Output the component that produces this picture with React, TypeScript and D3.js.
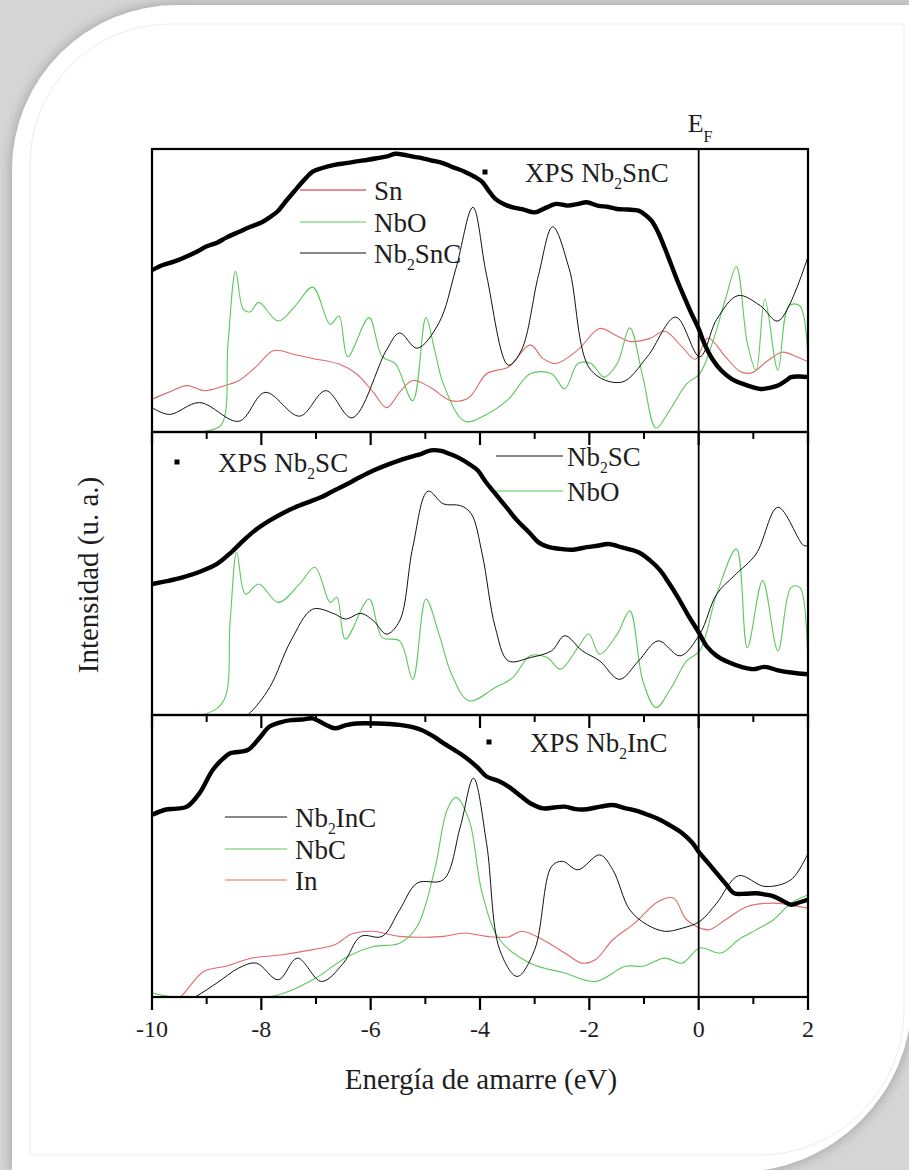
import React from "react";
import * as d3 from "d3";

type Pt = [number, number];

// Binding-energy axis
const energyMajor = [-10, -8, -6, -4, -2, 0, 2];
const energyMinor = [-9, -7, -5, -3, -1, 1];

// ---- Panel 1: Nb2SnC ----
const xpsNb2SnC: Pt[] = [
  [-10, 57.2], [-9.8, 59], [-9.6, 60.2], [-9.44, 61.4], [-9.2, 63.5], [-9.0, 65.6], [-8.8, 67], [-8.65, 68.6],
  [-8.4, 70.8], [-8.2, 72.5], [-8.0, 74], [-7.85, 75.8], [-7.7, 78], [-7.54, 81.8], [-7.4, 85], [-7.22, 89],
  [-7.06, 92], [-6.9, 93.2], [-6.66, 94.4], [-6.45, 95], [-6.26, 95.6], [-6.05, 96.2], [-5.87, 96.8],
  [-5.7, 97.4], [-5.55, 98.3], [-5.35, 97.8], [-5.2, 97.2], [-5.07, 96.8], [-4.9, 96], [-4.68, 95],
  [-4.5, 93.6], [-4.28, 92], [-4.1, 90.2], [-3.96, 88.4], [-3.85, 85.5], [-3.72, 82.4], [-3.55, 80.4],
  [-3.4, 79.4], [-3.2, 78.6], [-3.0, 77.6], [-2.8, 79.2], [-2.61, 80.6], [-2.4, 80], [-2.2, 80.6],
  [-2.05, 81.2], [-1.85, 80], [-1.65, 79.5], [-1.49, 78.8], [-1.3, 78.6], [-1.1, 78.2], [-0.98, 76.8],
  [-0.86, 74.6], [-0.74, 70.5], [-0.62, 65], [-0.5, 59], [-0.38, 53], [-0.26, 47.5], [-0.14, 42.2],
  [0.0, 36.5], [0.1, 31.4], [0.25, 25.8], [0.41, 21.8], [0.6, 18.8], [0.81, 17], [1.0, 15.8],
  [1.13, 15.2], [1.3, 15.6], [1.45, 16.4], [1.6, 18.2], [1.69, 19.4], [1.85, 19.6], [2.0, 19.4],
];

const snDos: Pt[] = [
  [-10, 11.6], [-9.7, 14], [-9.36, 16.4], [-9.05, 14.6], [-8.7, 16.2], [-8.41, 18.2], [-8.1, 23],
  [-7.77, 28.8], [-7.4, 27.4], [-7.06, 26], [-6.58, 24], [-6.26, 20.6], [-5.95, 14], [-5.71, 8.6],
  [-5.45, 14.5], [-5.23, 18.2], [-4.91, 15.8], [-4.52, 11], [-4.2, 12.2], [-3.88, 20.6], [-3.48, 23],
  [-3.08, 30.8], [-2.85, 26], [-2.61, 24.2], [-2.21, 29], [-1.81, 36.6], [-1.5, 34], [-1.26, 32],
  [-0.9, 33], [-0.62, 35.6], [-0.3, 30], [-0.06, 25.7], [0.17, 33.2], [0.49, 26.6], [0.75, 21.5],
  [0.97, 20.9], [1.25, 25], [1.53, 28.2], [1.8, 26.5], [2.0, 24.8],
];

const nbOPanel1: Pt[] = [
  [-10, -3], [-9.5, -3], [-9.05, 0], [-8.73, 2.6], [-8.61, 31], [-8.47, 56.8], [-8.33, 43.4],
  [-8.2, 42.5], [-8.05, 45.8], [-7.69, 39.2], [-7.38, 44.6], [-7.06, 51.2], [-6.74, 38], [-6.58, 41],
  [-6.42, 26.6], [-6.03, 40.4], [-5.79, 26.6], [-5.55, 24.2], [-5.23, 11], [-4.99, 40.4], [-4.83, 29],
  [-4.67, 17], [-4.28, 3.8], [-3.88, 6.2], [-3.48, 11.6], [-3.08, 20.6], [-2.69, 20.6], [-2.45, 15.2],
  [-2.21, 24.2], [-1.97, 24.2], [-1.73, 19.4], [-1.49, 24.2], [-1.26, 36.8], [-1.02, 19.4],
  [-0.78, 1.4], [-0.54, 7.4], [-0.22, 17], [0.02, 20.6], [0.25, 31.4], [0.49, 47], [0.69, 58.4],
  [0.89, 31.4], [1.05, 21.8], [1.21, 47], [1.45, 21.8], [1.65, 44.6], [1.85, 44.6], [2.0, 25.4],
];

const nb2SnCDos: Pt[] = [
  [-10, 8.6], [-9.68, 6.2], [-9.13, 10.4], [-8.41, 3.8], [-7.93, 14], [-7.3, 5.6], [-6.82, 14.6],
  [-6.34, 5], [-5.71, 29], [-5.47, 35], [-5.15, 29.6], [-4.75, 38.6], [-4.44, 57.8], [-4.13, 79.4],
  [-3.88, 55.4], [-3.48, 23.6], [-3.24, 29], [-2.93, 55.4], [-2.67, 72.5], [-2.37, 57.8],
  [-1.97, 21.8], [-1.41, 17.6], [-0.94, 26.6], [-0.42, 40.6], [0.02, 26.6], [0.33, 39.8],
  [0.72, 48.2], [1.13, 44.6], [1.45, 39.2], [2.0, 62],
];

// ---- Panel 2: Nb2SC ----
const xpsNb2SC: Pt[] = [
  [-10, 46.3], [-9.7, 47.4], [-9.44, 48.6], [-9.1, 50.8], [-8.81, 53.4], [-8.55, 57.5], [-8.33, 61.6],
  [-8.1, 65.5], [-7.85, 68.7], [-7.6, 71.4], [-7.38, 73.4], [-7.1, 75.5], [-6.9, 77], [-6.65, 79.5],
  [-6.42, 81.7], [-6.2, 84], [-5.95, 86.4], [-5.7, 88.4], [-5.47, 90], [-5.25, 91.3], [-5.07, 92.3],
  [-4.9, 93.5], [-4.71, 93.3], [-4.55, 92.2], [-4.36, 90.6], [-4.2, 88.7], [-4.04, 86.4], [-3.9, 82.5],
  [-3.72, 78.2], [-3.5, 73], [-3.32, 68.7], [-3.1, 64.5], [-2.93, 61], [-2.75, 59.4], [-2.53, 58.7],
  [-2.3, 58.4], [-2.05, 59.3], [-1.85, 59.8], [-1.65, 60.4], [-1.4, 59.2], [-1.1, 57.5], [-0.9, 54.8],
  [-0.7, 51], [-0.55, 46.8], [-0.38, 41.6], [-0.2, 35.5], [0.02, 28.6], [0.15, 24.2], [0.33, 20.9],
  [0.55, 18.6], [0.81, 16.8], [1.0, 16.2], [1.21, 17], [1.45, 15.8], [1.69, 15], [2.0, 14.4],
];

const nb2SCDos: Pt[] = [
  [-8.6, -4], [-8.25, 0], [-7.85, 9.7], [-7.46, 26.2], [-7.06, 37.4], [-6.66, 35.7], [-6.46, 33.9],
  [-6.18, 35.9], [-5.95, 33.3], [-5.71, 28.6], [-5.47, 33.3], [-5.23, 59.3], [-4.95, 79.1],
  [-4.67, 74.6], [-4.36, 74], [-4.16, 71.1], [-3.96, 56.9], [-3.72, 30.9], [-3.48, 19.1],
  [-3.08, 20.3], [-2.69, 22.7], [-2.45, 28], [-2.13, 22.7], [-1.81, 19.1], [-1.45, 12.6],
  [-1.1, 19.1], [-0.74, 26.2], [-0.34, 20.9], [0.02, 28.6], [0.33, 42.7], [0.65, 49.2],
  [1.05, 56.9], [1.45, 73.4], [1.92, 59.9], [2.0, 59.9],
];

const nbOPanel2: Pt[] = [
  [-10, 0.2], [-9.05, 0.2], [-8.69, 5], [-8.57, 33.3], [-8.45, 57.5], [-8.29, 42.7], [-8.05, 46.3],
  [-7.69, 39.8], [-7.3, 46.3], [-7.02, 52.2], [-6.74, 39.8], [-6.62, 41.6], [-6.46, 26.8],
  [-6.03, 41], [-5.79, 27.4], [-5.47, 26.2], [-5.23, 12.6], [-4.99, 41], [-4.75, 28.6], [-4.52, 14.4],
  [-4.2, 5], [-3.72, 9.7], [-3.4, 13.2], [-3.08, 20.9], [-2.77, 20.3], [-2.53, 16.2], [-2.21, 23.8],
  [-2.01, 28.6], [-1.81, 21.5], [-1.49, 28.6], [-1.26, 36.8], [-1.02, 12], [-0.78, 2.6], [-0.5, 9.7],
  [-0.22, 19.1], [0.02, 22.7], [0.33, 42.7], [0.69, 58.7], [0.89, 23.8], [1.17, 47.5], [1.45, 22.7],
  [1.69, 45.1], [1.85, 45.1], [2.0, 14.4],
];

// ---- Panel 3: Nb2InC ----
const xpsNb2InC: Pt[] = [
  [-10, 64.6], [-9.76, 66.4], [-9.55, 66.8], [-9.36, 67.5], [-9.13, 72.3], [-8.89, 80.5], [-8.7, 84.5],
  [-8.57, 86.4], [-8.25, 87.6], [-8.05, 91.5], [-7.85, 95.9], [-7.65, 97.4], [-7.46, 98.2],
  [-7.25, 98.4], [-7.06, 98.8], [-6.85, 96.8], [-6.66, 95.3], [-6.45, 96.4], [-6.26, 97], [-5.87, 97],
  [-5.47, 96.5], [-5.25, 95.8], [-5.07, 94.7], [-4.85, 92.4], [-4.67, 90], [-4.45, 87.4],
  [-4.28, 85.2], [-4.05, 81.5], [-3.88, 78.2], [-3.65, 76.5], [-3.48, 74.6], [-3.25, 71.2],
  [-3.08, 68.7], [-2.85, 66.9], [-2.65, 67.2], [-2.45, 67.5], [-2.25, 66.6], [-2.05, 66.6],
  [-1.8, 67.5], [-1.57, 68.1], [-1.35, 67], [-1.1, 65.8], [-0.9, 64.4], [-0.7, 62.8], [-0.5, 60.6],
  [-0.3, 58.1], [-0.12, 54.8], [0.02, 51], [0.18, 47.4], [0.33, 43.9], [0.5, 40], [0.65, 36.8],
  [0.85, 36.6], [1.05, 36.8], [1.2, 36.4], [1.37, 35.7], [1.55, 34], [1.69, 32.7], [1.85, 33.6],
  [2.0, 34.5],
];

const nb2InCDos: Pt[] = [
  [-9.6, -4], [-9.21, 0], [-8.81, 5], [-8.41, 10.3], [-8.09, 12], [-7.69, 6.1], [-7.34, 13.8],
  [-6.9, 5.5], [-6.5, 12], [-6.18, 21.5], [-5.79, 21.5], [-5.47, 30.9], [-5.15, 40.4], [-4.67, 41.6],
  [-4.36, 60.4], [-4.12, 77.6], [-3.88, 54.5], [-3.64, 16.8], [-3.32, 7.3], [-3.0, 16.8],
  [-2.69, 46.3], [-2.49, 48.1], [-2.21, 45.1], [-1.81, 50.4], [-1.57, 45.1], [-1.26, 30.9],
  [-0.94, 25.6], [-0.62, 23.3], [-0.3, 24.4], [0.02, 26.8], [0.33, 33.3], [0.73, 43], [1.21, 39.2],
  [1.69, 41.6], [2.0, 51],
];

const nbCDos: Pt[] = [
  [-10, 1.4], [-9.6, 0], [-7.85, 0], [-7.06, 6.1], [-6.42, 14.4], [-5.95, 17.9], [-5.47, 19.1],
  [-5.15, 25], [-4.83, 45.1], [-4.6, 66.4], [-4.44, 70.8], [-4.2, 62.8], [-3.96, 36.8], [-3.64, 20.3],
  [-3.08, 12], [-2.45, 8.5], [-1.89, 5.5], [-1.34, 10.9], [-1.02, 10.9], [-0.62, 13.8], [-0.3, 12],
  [0.02, 17.4], [0.41, 15.6], [0.73, 20.3], [1.05, 23.8], [1.37, 27.4], [1.69, 33.3], [2.0, 36.2],
];

const inDos: Pt[] = [
  [-9.8, -4], [-9.48, 0], [-9.05, 9.1], [-8.65, 10.9], [-8.17, 13.8], [-7.62, 15], [-7.06, 16.8],
  [-6.66, 18.5], [-6.34, 22.4], [-5.95, 23.3], [-5.47, 21.5], [-4.67, 21.5], [-4.28, 22.7],
  [-3.88, 21.5], [-3.48, 21.3], [-3.24, 23.3], [-2.85, 20.3], [-2.45, 15.6], [-2.13, 12],
  [-1.89, 13.2], [-1.57, 20.3], [-1.17, 26.2], [-0.74, 33.9], [-0.46, 35.1], [-0.22, 27.4],
  [0.17, 23.8], [0.49, 27.4], [0.89, 32.1], [1.37, 33.3], [2.0, 31.5],
];

const RED = "#e06a6a";
const GREEN = "#5dc85d";
const BLACK = "#111";
const SERIF = "Liberation Serif";
const INK = "#1e1e1e";

const W = 909;
const H = 1170;
const LEFT = 152;
const RIGHT = 808;
const panelEdges = [149, 432, 715, 997];

const x = d3.scaleLinear().domain([-10, 2]).range([LEFT, RIGHT]);

type Series = { data: Pt[]; color: string; width: number };
type LegendLine = { label: string[]; color: string; y: number };

type Panel = {
  series: Series[];
  xps: Pt[];
  xpsLabel: string[];
  xpsPos: [number, number, number]; // marker x, marker y, label x
  legendX: [number, number, number]; // line start, line end, label x
  legend: LegendLine[];
};

const panels: Panel[] = [
  {
    series: [
      { data: snDos, color: RED, width: 1.1 },
      { data: nbOPanel1, color: GREEN, width: 1.1 },
      { data: nb2SnCDos, color: BLACK, width: 1 },
    ],
    xps: xpsNb2SnC,
    xpsLabel: ["XPS Nb", "2", "SnC"],
    xpsPos: [485, 172, 525],
    legendX: [300, 366, 374],
    legend: [
      { label: ["Sn"], color: "#f08a94", y: 190 },
      { label: ["NbO"], color: GREEN, y: 222 },
      { label: ["Nb", "2", "SnC"], color: BLACK, y: 253 },
    ],
  },
  {
    series: [
      { data: nbOPanel2, color: GREEN, width: 1.1 },
      { data: nb2SCDos, color: BLACK, width: 1 },
    ],
    xps: xpsNb2SC,
    xpsLabel: ["XPS Nb", "2", "SC"],
    xpsPos: [177, 462, 218],
    legendX: [496, 563, 567],
    legend: [
      { label: ["Nb", "2", "SC"], color: BLACK, y: 456 },
      { label: ["NbO"], color: GREEN, y: 491 },
    ],
  },
  {
    series: [
      { data: inDos, color: RED, width: 1.1 },
      { data: nbCDos, color: GREEN, width: 1.1 },
      { data: nb2InCDos, color: BLACK, width: 1 },
    ],
    xps: xpsNb2InC,
    xpsLabel: ["XPS Nb", "2", "InC"],
    xpsPos: [489, 742, 530],
    legendX: [225, 287, 295],
    legend: [
      { label: ["Nb", "2", "InC"], color: BLACK, y: 817 },
      { label: ["NbC"], color: GREEN, y: 849 },
      { label: ["In"], color: RED, y: 880 },
    ],
  },
];

// Label with subscripted digits: odd-indexed parts are drawn as subscripts.
function SubText({ parts, x0, y0, size }: { parts: string[]; x0: number; y0: number; size: number }) {
  return (
    <text x={x0} y={y0} fontFamily={SERIF} fontSize={size} fill={INK}>
      {parts.map((p, i) =>
        i % 2 === 1 ? (
          <tspan key={i} fontSize={size * 0.58} dy={size * 0.26}>
            {p}
          </tspan>
        ) : (
          <tspan key={i} dy={i === 0 ? 0 : -size * 0.26}>
            {p}
          </tspan>
        )
      )}
    </text>
  );
}

function PanelView({ p, i }: { p: Panel; i: number }) {
  const top = panelEdges[i];
  const bottom = panelEdges[i + 1];
  const y = d3.scaleLinear().domain([0, 100]).range([bottom, top]);
  const line = d3
    .line<Pt>()
    .x((d) => x(d[0]))
    .y((d) => y(d[1]))
    .curve(d3.curveCatmullRom.alpha(0.5));
  const clipId = `clip-${i}`;
  const [lx0, lx1, tx] = p.legendX;
  return (
    <g>
      <defs>
        <clipPath id={clipId}>
          <rect x={LEFT} y={top} width={RIGHT - LEFT} height={bottom - top} />
        </clipPath>
      </defs>
      <g clipPath={`url(#${clipId})`}>
        {p.series.map((s, k) => (
          <path key={k} d={line(s.data) ?? ""} fill="none" stroke={s.color} strokeWidth={s.width} />
        ))}
        <path d={line(p.xps) ?? ""} fill="none" stroke="#000" strokeWidth={4.4} strokeLinejoin="round" />
      </g>
      <rect x={LEFT} y={top} width={RIGHT - LEFT} height={bottom - top} fill="none" stroke="#000" strokeWidth={2.2} />
      {energyMajor.map((v) => (
        <line key={`M${v}`} x1={x(v)} x2={x(v)} y1={bottom} y2={bottom + 13} stroke="#000" strokeWidth={2.2} />
      ))}
      {energyMinor.map((v) => (
        <line key={`m${v}`} x1={x(v)} x2={x(v)} y1={bottom} y2={bottom + 7} stroke="#000" strokeWidth={2} />
      ))}
      <rect x={p.xpsPos[0] - 2.5} y={p.xpsPos[1] - 2.5} width={5} height={5} fill="#000" />
      <SubText parts={p.xpsLabel} x0={p.xpsPos[2]} y0={p.xpsPos[1] + 10} size={27} />
      {p.legend.map((l, k) => (
        <g key={k}>
          <line x1={lx0} x2={lx1} y1={l.y} y2={l.y} stroke={l.color} strokeWidth={k === 0 && i === 0 ? 2 : 1.2} />
          <SubText parts={l.label} x0={tx} y0={l.y + 10} size={27} />
        </g>
      ))}
    </g>
  );
}

export default function App() {
  const cardPath = (() => {
    const l = 12, t = 5, r = 912, b = 1172, rTL = 165, rBR = 175;
    return `M${l},${t + rTL} A${rTL},${rTL} 0 0 1 ${l + rTL},${t} L${r},${t} L${r},${b - rBR} A${rBR},${rBR} 0 0 1 ${r - rBR},${b} L${l},${b} Z`;
  })();
  const innerPath = (() => {
    const l = 30, t = 24, r = 904, b = 1155, rTL = 140, rBR = 145;
    return `M${l},${t + rTL} A${rTL},${rTL} 0 0 1 ${l + rTL},${t} L${r},${t} L${r},${b - rBR} A${rBR},${rBR} 0 0 1 ${r - rBR},${b} L${l},${b} Z`;
  })();

  return (
    <svg
      width={W}
      height={H}
      viewBox={`0 0 ${W} ${H}`}
      fontFamily={SERIF}
      style={{ position: "absolute", left: 0, top: 0, display: "block" }}
    >
      <defs>
        <filter id="cardShadow" x="-10%" y="-10%" width="120%" height="120%">
          <feDropShadow dx="0" dy="0" stdDeviation="7" floodColor="#8a8a8a" floodOpacity="0.8" />
        </filter>
      </defs>
      <rect x={0} y={0} width={W} height={H} fill="#d6d6d6" />
      <path d={cardPath} fill="#fff" filter="url(#cardShadow)" />
      <path d={innerPath} fill="none" stroke="#ececec" strokeWidth={1} />

      {panels.map((p, i) => (
        <PanelView key={i} p={p} i={i} />
      ))}

      {/* Fermi level */}
      <line x1={x(0)} x2={x(0)} y1={panelEdges[0]} y2={panelEdges[3]} stroke="#000" strokeWidth={1.8} />
      <text x={x(0) - 11} y={132} fontFamily={SERIF} fontSize={26} fill={INK}>
        E
        <tspan fontSize={16} dy={10}>
          F
        </tspan>
      </text>

      {energyMajor.map((v) => (
        <text key={v} x={x(v)} y={1037} textAnchor="middle" fontFamily={SERIF} fontSize={24} fill={INK}>
          {v}
        </text>
      ))}

      <text x={481} y={1089} textAnchor="middle" fontFamily={SERIF} fontSize={29} fill={INK}>
        Energía de amarre (eV)
      </text>
      <text transform="translate(98, 575) rotate(-90)" textAnchor="middle" fontFamily={SERIF} fontSize={29} fill={INK}>
        Intensidad (u. a.)
      </text>
    </svg>
  );
}
